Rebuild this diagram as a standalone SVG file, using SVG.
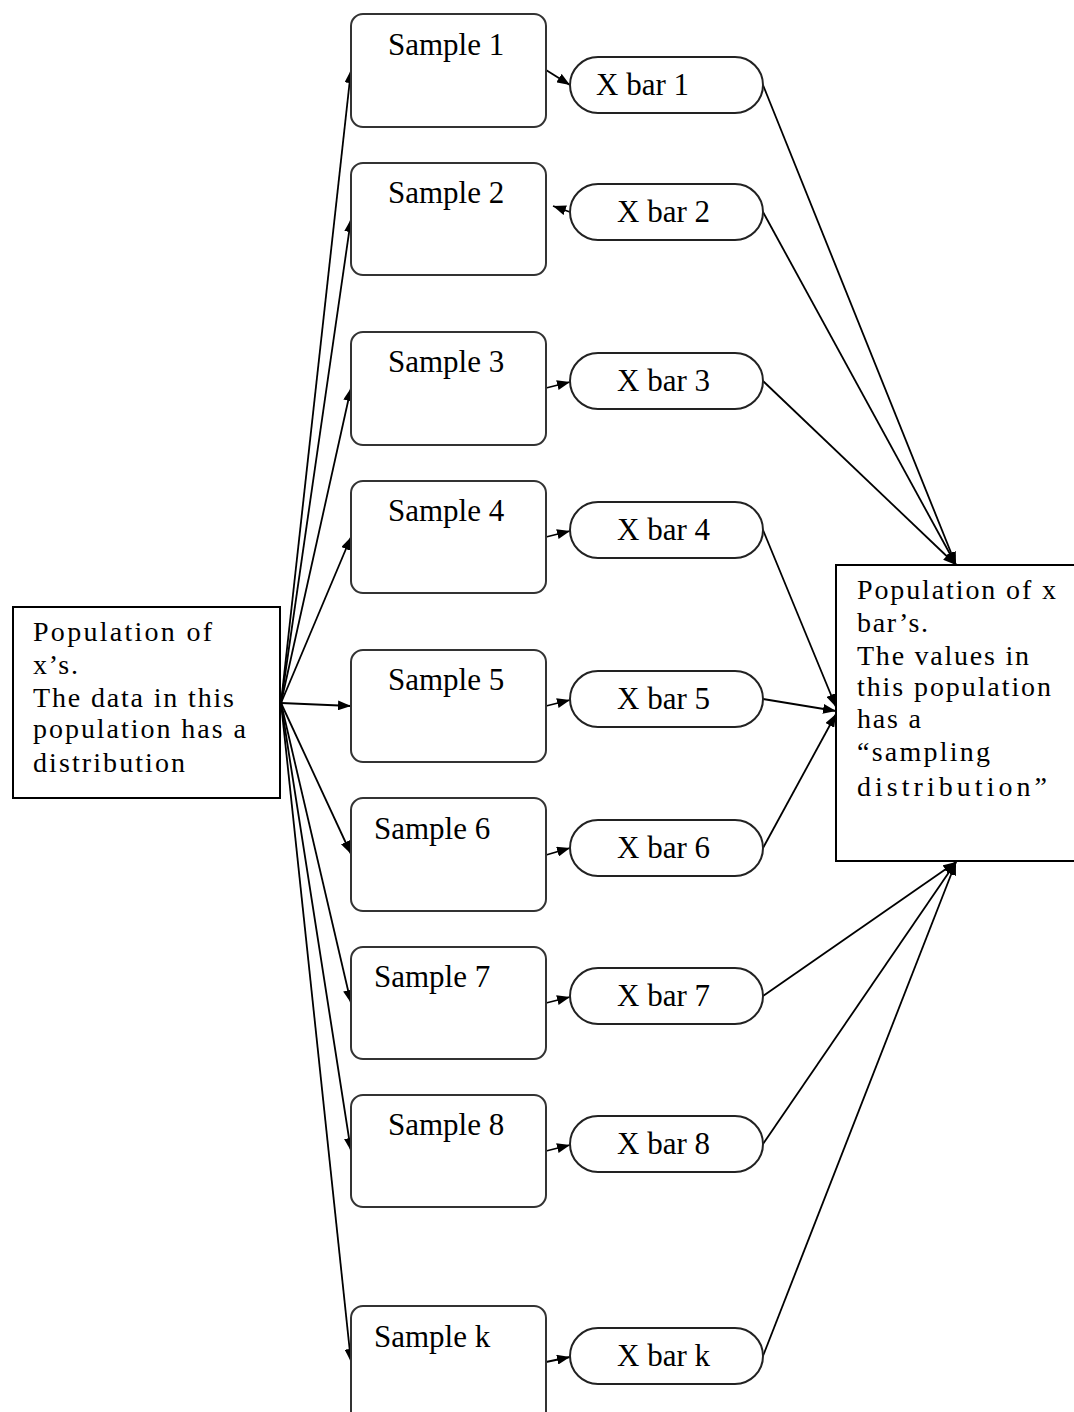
<svg xmlns="http://www.w3.org/2000/svg" width="1074" height="1412" viewBox="0 0 1074 1412">
<defs>
<marker id="ah" markerUnits="userSpaceOnUse" markerWidth="14" markerHeight="10" refX="13" refY="5" orient="auto">
<path d="M0,0 L13,5 L0,10 z" fill="#000"/>
</marker>
<style>
.t{font-family:"Liberation Serif","Times New Roman",serif;font-size:31px;fill:#000}
.m{font-family:"Liberation Serif","Times New Roman",serif;font-size:28px;fill:#000}
.s{fill:#fff;stroke:#333;stroke-width:2}
.o{fill:#fff;stroke:#222;stroke-width:2}
.b{fill:#fff;stroke:#000;stroke-width:2}
.c{fill:none;stroke:#000;stroke-width:1.8;marker-end:url(#ah)}
</style>
</defs>
<rect width="1074" height="1412" fill="#fff"/>
<g id="connectors">
<line class="c" x1="281" y1="703" x2="351" y2="70"/>
<line class="c" x1="281" y1="703" x2="351" y2="219"/>
<line class="c" x1="281" y1="703" x2="351" y2="388"/>
<line class="c" x1="281" y1="703" x2="351" y2="537"/>
<line class="c" x1="281" y1="703" x2="351" y2="706"/>
<line class="c" x1="281" y1="703" x2="351" y2="854"/>
<line class="c" x1="281" y1="703" x2="351" y2="1003"/>
<line class="c" x1="281" y1="703" x2="351" y2="1151"/>
<line class="c" x1="281" y1="703" x2="351" y2="1362"/>
<line class="c" x1="546" y1="70" x2="570" y2="85"/>
<line class="c" x1="570" y1="212" x2="553" y2="206"/>
<line class="c" x1="546" y1="388" x2="570" y2="382"/>
<line class="c" x1="546" y1="537" x2="570" y2="531"/>
<line class="c" x1="546" y1="706" x2="570" y2="700"/>
<line class="c" x1="546" y1="855" x2="570" y2="848"/>
<line class="c" x1="546" y1="1003" x2="570" y2="997"/>
<line class="c" x1="546" y1="1151" x2="570" y2="1145"/>
<line class="c" x1="546" y1="1362" x2="570" y2="1357"/>
<line class="c" x1="763" y1="85" x2="956" y2="565"/>
<line class="c" x1="763" y1="212" x2="956" y2="565"/>
<line class="c" x1="763" y1="381" x2="956" y2="565"/>
<line class="c" x1="763" y1="530" x2="836" y2="707"/>
<line class="c" x1="763" y1="699" x2="836" y2="711"/>
<line class="c" x1="763" y1="848" x2="836" y2="714"/>
<line class="c" x1="763" y1="996" x2="956" y2="862"/>
<line class="c" x1="763" y1="1144" x2="956" y2="862"/>
<line class="c" x1="763" y1="1356" x2="956" y2="862"/>
</g>
<g id="pop-x">
<rect class="b" x="13" y="607" width="267" height="191"/>
<text class="m" x="33" y="641" textLength="179" lengthAdjust="spacing">Population of</text>
<text class="m" x="33" y="674" textLength="45" lengthAdjust="spacing">x’s.</text>
<text class="m" x="33" y="707" textLength="201" lengthAdjust="spacing">The data in this</text>
<text class="m" x="33" y="738" textLength="213" lengthAdjust="spacing">population has a</text>
<text class="m" x="33" y="772" textLength="152" lengthAdjust="spacing">distribution</text>
</g>
<g id="pop-xbar">
<rect class="b" x="836" y="565" width="250" height="296"/>
<text class="m" x="857" y="599" textLength="199" lengthAdjust="spacing">Population of x</text>
<text class="m" x="857" y="632" textLength="71" lengthAdjust="spacing">bar’s.</text>
<text class="m" x="857" y="665" textLength="172" lengthAdjust="spacing">The values in</text>
<text class="m" x="857" y="696" textLength="194" lengthAdjust="spacing">this population</text>
<text class="m" x="857" y="728" textLength="64" lengthAdjust="spacing">has a</text>
<text class="m" x="857" y="761" textLength="133" lengthAdjust="spacing">“sampling</text>
<text class="m" x="857" y="796" textLength="190" lengthAdjust="spacing">distribution”</text>
</g>
<g id="sample1"><rect class="s" x="351" y="14" width="195" height="113" rx="12"/><text class="t" x="388" y="55">Sample 1</text></g>
<g id="sample2"><rect class="s" x="351" y="163" width="195" height="112" rx="12"/><text class="t" x="388" y="203">Sample 2</text></g>
<g id="sample3"><rect class="s" x="351" y="332" width="195" height="113" rx="12"/><text class="t" x="388" y="372">Sample 3</text></g>
<g id="sample4"><rect class="s" x="351" y="481" width="195" height="112" rx="12"/><text class="t" x="388" y="521">Sample 4</text></g>
<g id="sample5"><rect class="s" x="351" y="650" width="195" height="112" rx="12"/><text class="t" x="388" y="690">Sample 5</text></g>
<g id="sample6"><rect class="s" x="351" y="798" width="195" height="113" rx="12"/><text class="t" x="374" y="839">Sample 6</text></g>
<g id="sample7"><rect class="s" x="351" y="947" width="195" height="112" rx="12"/><text class="t" x="374" y="987">Sample 7</text></g>
<g id="sample8"><rect class="s" x="351" y="1095" width="195" height="112" rx="12"/><text class="t" x="388" y="1135">Sample 8</text></g>
<g id="samplek"><rect class="s" x="351" y="1306" width="195" height="130" rx="12"/><text class="t" x="374" y="1347">Sample k</text></g>
<g id="xbar1"><rect class="o" x="570" y="57" width="193" height="56" rx="28"/><text class="t" x="596" y="95">X bar 1</text></g>
<g id="xbar2"><rect class="o" x="570" y="184" width="193" height="56" rx="28"/><text class="t" x="617" y="222">X bar 2</text></g>
<g id="xbar3"><rect class="o" x="570" y="353" width="193" height="56" rx="28"/><text class="t" x="617" y="391">X bar 3</text></g>
<g id="xbar4"><rect class="o" x="570" y="502" width="193" height="56" rx="28"/><text class="t" x="617" y="540">X bar 4</text></g>
<g id="xbar5"><rect class="o" x="570" y="671" width="193" height="56" rx="28"/><text class="t" x="617" y="709">X bar 5</text></g>
<g id="xbar6"><rect class="o" x="570" y="820" width="193" height="56" rx="28"/><text class="t" x="617" y="858">X bar 6</text></g>
<g id="xbar7"><rect class="o" x="570" y="968" width="193" height="56" rx="28"/><text class="t" x="617" y="1006">X bar 7</text></g>
<g id="xbar8"><rect class="o" x="570" y="1116" width="193" height="56" rx="28"/><text class="t" x="617" y="1154">X bar 8</text></g>
<g id="xbark"><rect class="o" x="570" y="1328" width="193" height="56" rx="28"/><text class="t" x="617" y="1366">X bar k</text></g>
</svg>
